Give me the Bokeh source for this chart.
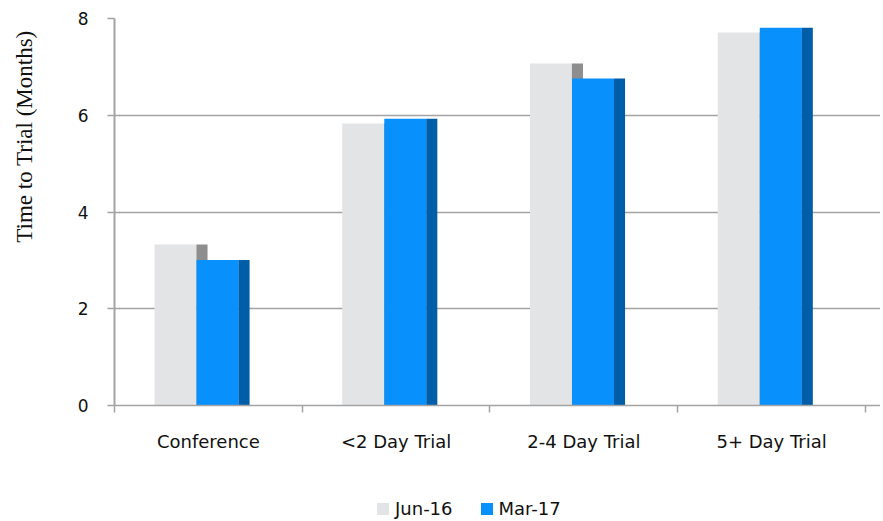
import numpy as np
from bokeh.plotting import figure
from bokeh.layouts import column, row
from bokeh.models import (Range1d, FixedTicker, Legend, LegendItem, Label,
                          ColumnDataSource)
from bokeh.transform import dodge
from bokeh.embed import file_html
from bokeh.resources import INLINE

categories = ["Conference", "<2 Day Trial", "2-4 Day Trial", "5+ Day Trial"]
jun16 = [3.33, 5.83, 7.07, 7.71]
mar17 = [3.01, 5.93, 6.76, 7.81]
series_names = ["Jun-16", "Mar-17"]
y_ticks = [0, 2, 4, 6, 8]
y_title = "Time to Trial (Months)"

xc = [i + 0.5 for i in range(len(categories))]
src = ColumnDataSource(dict(x=xc, jun=jun16, mar=mar17))

SANS = "DejaVu Sans"
GRID = "#a3a3a3"
C_JUN, C_JUN_SIDE = "#e3e4e6", "#8e8e8e"
C_MAR, C_MAR_SIDE = "#0890fc", "#005ea8"

TW = 40  # width of the strip holding the y title

p = figure(width=880 - TW, height=470, x_range=Range1d(0, 4.08), y_range=Range1d(0, 8),
           output_backend="svg", toolbar_location=None,
           min_border_left=114 - TW, min_border_right=0, min_border_top=18,
           min_border_bottom=65)
p.outline_line_color = None

# bars (front faces and side faces)
p.vbar(x=dodge("x", -0.175), top="jun", bottom=0, width=0.224, source=src,
       fill_color=C_JUN, line_color=None)
p.vbar(x=dodge("x", -0.034), top="jun", bottom=0, width=0.059, source=src,
       fill_color=C_JUN_SIDE, line_color=None)
p.vbar(x=dodge("x", 0.049), top="mar", bottom=0, width=0.224, source=src,
       fill_color=C_MAR, line_color=None)
p.vbar(x=dodge("x", 0.19), top="mar", bottom=0, width=0.059, source=src,
       fill_color=C_MAR_SIDE, line_color=None)

# x axis
p.xaxis.ticker = FixedTicker(ticks=xc, minor_ticks=list(range(len(categories) + 1)))
p.xaxis.major_label_overrides = {xc[i]: categories[i] for i in range(len(categories))}
p.xaxis.major_tick_out = 0
p.xaxis.major_tick_in = 0
p.xaxis.minor_tick_out = 7
p.xaxis.minor_tick_in = 0
p.xaxis.minor_tick_line_color = GRID
p.xaxis.minor_tick_line_width = 1.5
p.xaxis.axis_line_color = GRID
p.xaxis.axis_line_width = 1.5
p.xaxis.major_label_standoff = 18
p.xaxis.major_label_text_font = SANS
p.xaxis.major_label_text_font_size = "18px"
p.xaxis.major_label_text_color = "#111111"
p.xgrid.visible = False

# y axis
p.yaxis.ticker = FixedTicker(ticks=y_ticks, minor_ticks=[])
p.yaxis.major_tick_out = 7
p.yaxis.major_tick_in = 0
p.yaxis.major_tick_line_color = GRID
p.yaxis.major_tick_line_width = 1.5
p.yaxis.axis_line_color = GRID
p.yaxis.axis_line_width = 2
p.yaxis.major_label_standoff = 19
p.yaxis.major_label_text_font = SANS
p.yaxis.major_label_text_font_size = "17px"
p.yaxis.major_label_text_color = "#111111"
p.ygrid.ticker = FixedTicker(ticks=y_ticks, minor_ticks=[])
p.ygrid.grid_line_color = GRID
p.ygrid.grid_line_width = 1.5

# narrow strip on the left with the rotated y title
tf = figure(width=TW, height=470, x_range=Range1d(0, TW), y_range=Range1d(0, 387),
            output_backend="svg", toolbar_location=None,
            x_axis_location=None, y_axis_location=None,
            min_border_left=0, min_border_right=0, min_border_top=18,
            min_border_bottom=65)
tf.outline_line_color = None
tf.xgrid.visible = False
tf.ygrid.visible = False
tf.add_layout(Label(x=24, y=387 - 118, text=y_title, angle=90, angle_units="deg",
                    text_align="center", text_baseline="middle",
                    text_font="Liberation Serif", text_font_size="23px",
                    text_color="#111111"))

# legend in a strip below the chart
lf = figure(width=880, height=50, x_range=Range1d(-10, -9), y_range=Range1d(0, 1),
            output_backend="svg", toolbar_location=None,
            x_axis_location=None, y_axis_location=None,
            min_border=0)
lf.outline_line_color = None
lf.xgrid.visible = False
lf.ygrid.visible = False
l1 = lf.vbar(x="x", top="jun", bottom=0, width=0.2, source=src,
             fill_color=C_JUN, line_color=None)
l2 = lf.vbar(x="x", top="mar", bottom=0, width=0.2, source=src,
             fill_color=C_MAR, line_color=None)
legend = Legend(items=[LegendItem(label=series_names[0], renderers=[l1]),
                       LegendItem(label=series_names[1], renderers=[l2])],
                location=(375, 1), orientation="horizontal",
                border_line_color=None, background_fill_alpha=0,
                padding=0, margin=0, glyph_width=15, glyph_height=15,
                label_standoff=5, spacing=26, label_text_font=SANS,
                label_text_font_size="18px", label_text_color="#111111")
lf.add_layout(legend)

layout = column(row(tf, p, spacing=0), lf, spacing=0)
open("out.html", "w").write(file_html(layout, INLINE))
